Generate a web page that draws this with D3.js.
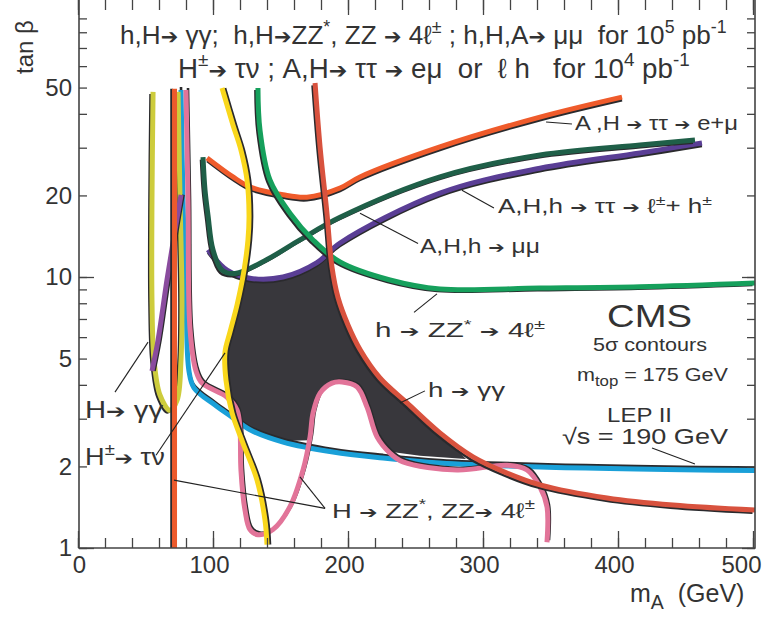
<!DOCTYPE html>
<html>
<head>
<meta charset="utf-8">
<script src="https://cdn.jsdelivr.net/npm/d3@7"></script>
<style>
body { margin: 0; background: #fff; }
svg { display: block; font-family: "Liberation Sans", Arial, Helvetica, sans-serif; }
</style>
</head>
<body>
<div id="chart"></div>
<script>
// tick values
const xTicksMajor = [0, 100, 200, 300, 400, 500];
const xTicksMinor = d3.range(0, 501, 20);
const yTickLabels = [1, 2, 5, 10, 20, 50];
const yTicksMinor = d3.range(1, 10).concat(d3.range(10, 100, 10));

// 5 sigma contours, points are [m_A (GeV), tan beta]
const hggHeavy = [[55.6,48.2],[54.8,19.2],[54.8,8.2],[56.3,4.95],[60.7,3.67],[68.1,3.22],[73.5,3.52],[76.3,4.95],[77,8.2],[75.6,19.2],[74.1,48.2]];
const hggHeavy2 = [[54.8,4.5],[59.3,5.85],[65.9,9.75],[71.9,14.9],[76.3,20.1]];
const tauNuLeft = [[71.5,49.5],[71.5,1]];
const lep = [[76.3,49],[77.8,19.2],[80,8.2],[82.2,4.5],[85.9,3.9],[101.5,3.37],[114.1,3.04],[127.4,2.73],[151.9,2.46],[188.9,2.26],[225.9,2.15],[268.1,2.06],[342.2,1.99],[501.5,1.93]];
const hzz = [[80,49],[81.5,19.2],[83,6.4],[87.4,4.5],[91.9,4.06],[110.4,3.6],[117.8,3.23],[120,2.73],[120.7,1.94],[123.7,1.38],[127.4,1.17],[133.3,1.12],[144.4,1.17],[157,1.42],[166.7,1.94],[171.9,2.57],[174.1,3.15],[179.3,3.73],[188.1,4.06],[195.6,4.1],[206.7,3.93],[214.1,3.31],[221.5,2.57],[231.1,2.24],[240.7,2.08],[280.7,1.94],[317.8,2.02],[332.6,1.94],[342.2,1.68],[347.4,1.42],[347.4,1.05]];
const tauNu = [[106.7,49.8],[114.8,36.4],[120.7,29.4],[125.2,22.8],[126.7,16.9],[125.9,13.7],[123,10.6],[117.8,7.88],[112.6,6.27],[108.9,5.29],[109.6,4.17],[114.1,3.15],[122.2,2.44],[132.6,1.78],[138.5,1.27],[140,1.03]];
const tauLepHad = [[92.6,27.7],[94.1,20.9],[96.3,16.9],[100,12.6],[106.7,10.6],[116.3,10.3],[140,11.6],[164.4,13.7],[194.1,16.6],[268.1,23.4],[342.2,28.2],[416.3,30.7],[457,32]];
const muMu = [[96.3,12.6],[110.4,10.6],[127.4,9.9],[151.9,10],[177,11.3],[194.1,13.35],[268.1,20.4],[342.2,25.2],[416.3,28.7],[462.2,31.2]];
const tauEMu = [[95.6,27.5],[114.8,23.4],[127.4,21.5],[151.9,20.1],[169.6,19.7],[194.1,21.3],[208.9,23.4],[268.1,30.2],[342.2,38.9],[403,46.1]];
const hZZ4l = [[133.3,49.8],[134.8,34.9],[142.2,22.8],[157,17.2],[174.1,13.7],[194.1,11.36],[231.1,9.75],[268.1,9.03],[342.2,9.1],[416.3,9.2],[501.5,9.5]];
const hgg = [[175.6,52],[179.3,30.2],[184.4,17.2],[188.1,10.9],[192.6,8.4],[200,6.65],[208.9,5.4],[223.7,4.24],[243.7,3.43],[268.1,2.66],[292.6,2.17],[317.8,1.89],[342.2,1.71],[391.9,1.53],[440.7,1.44],[501.5,1.38]];
// region not covered by any channel
const hole = [[123,10.4],[127.4,9.85],[151.9,9.85],[177,11.2],[186.7,11.96],[188.1,10.9],[192.6,8.4],[200,6.65],[208.9,5.4],[223.7,4.24],[243.7,3.43],[268.1,2.66],[287.4,2.13],[253.3,2.19],[232.6,2.26],[221.5,2.57],[214.1,3.31],[206.7,3.93],[195.6,4.1],[188.1,4.06],[179.3,3.73],[174.1,3.15],[171.1,2.5],[151.9,2.48],[127.4,2.73],[120,2.92],[114.1,3.15],[109.6,4.17],[108.9,5.29],[112.6,6.27],[117.8,7.88]];

const W = 763, H = 617;
const svg = d3.select("#chart").append("svg").attr("width", W).attr("height", H);
svg.append("rect").attr("width", W).attr("height", H).attr("fill", "#fff");

const x = d3.scaleLinear().domain([0, 500]).range([78, 753]);
const y = d3.scaleLog().domain([1, 100]).range([548, 6]);
const frameLeft = 79, frameRight = 755, frameBottom = 548, frameTop = 0;

const line = d3.line().x(d => x(d[0])).y(d => y(d[1])).curve(d3.curveCatmullRom.alpha(0.5));

// the uncovered region
svg.append("path")
    .datum(hole)
    .attr("d", d3.line().x(d => x(d[0])).y(d => y(d[1])).curve(d3.curveLinearClosed))
    .attr("fill", "#38373c");

function contour(pts, color, off) {
    let g = svg.append("g");
    g.append("path").datum(pts).attr("d", line)
        .attr("transform", `translate(${off[0]},${off[1]})`)
        .attr("fill", "none").attr("stroke", "#2a2a2d").attr("stroke-width", 2.6);
    g.append("path").datum(pts).attr("d", line)
        .attr("fill", "none").attr("stroke", color).attr("stroke-width", 5);
}

contour(lep, "#1aa0d8", [0, -3]);
contour(hggHeavy, "#cdcc3c", [-2.5, 2]);
contour(hggHeavy2, "#8a4c9e", [2.5, 0]);
contour(tauNuLeft, "#ec5a2c", [-3, 0]);
contour(hzz, "#e27499", [2, -2]);
contour(muMu, "#5a3e95", [0, 3]);
contour(tauLepHad, "#1f5f48", [-2, 2.5]);
contour(tauEMu, "#ef5b2b", [0, 3]);
contour(tauNu, "#f9d71c", [3, 0]);
contour(hZZ4l, "#16a05c", [-2.5, 2]);
contour(hgg, "#d8523e", [-2.5, 2.5]);

// axes and frame
function styleAxis(g) {
    g.select(".domain").remove();
    g.selectAll(".tick line").attr("stroke", "#444").attr("stroke-width", 1.3);
    g.selectAll(".tick text").attr("fill", "#333").attr("font-size", 24)
        .attr("font-family", "Liberation Sans, Arial, sans-serif");
}
svg.append("g").attr("transform", `translate(0,${frameBottom})`)
    .call(d3.axisBottom(x).tickValues(xTicksMinor).tickSize(-10).tickFormat("")).call(styleAxis);
svg.append("g").attr("transform", `translate(0,${frameBottom})`)
    .call(d3.axisBottom(x).tickValues(xTicksMajor).tickSize(-17).tickPadding(8)).call(styleAxis)
    .selectAll(".tick text").attr("dx", d => d === 500 ? -12 : (d === 0 ? 1 : -4));
svg.append("g").attr("transform", `translate(0,${frameTop})`)
    .call(d3.axisTop(x).tickValues(xTicksMinor).tickSize(-10).tickFormat("")).call(styleAxis);
svg.append("g").attr("transform", `translate(0,${frameTop})`)
    .call(d3.axisTop(x).tickValues(xTicksMajor).tickSize(-15).tickFormat("")).call(styleAxis);

svg.append("g").attr("transform", `translate(${frameLeft},0)`)
    .call(d3.axisLeft(y).tickValues(yTicksMinor).tickSize(-8).tickFormat("")).call(styleAxis);
svg.append("g").attr("transform", `translate(${frameLeft},0)`)
    .call(d3.axisLeft(y).tickValues([1, 10]).tickSize(-15).tickFormat("")).call(styleAxis);
svg.append("g").attr("transform", `translate(${frameLeft},0)`)
    .call(d3.axisLeft(y).tickValues(yTickLabels).tickSize(0).tickPadding(7).tickFormat(d3.format("d"))).call(styleAxis);
svg.append("g").attr("transform", `translate(${frameRight},0)`)
    .call(d3.axisRight(y).tickValues(yTicksMinor).tickSize(-8).tickFormat("")).call(styleAxis);
svg.append("g").attr("transform", `translate(${frameRight},0)`)
    .call(d3.axisRight(y).tickValues([1, 10]).tickSize(-13).tickFormat("")).call(styleAxis);

svg.append("path")
    .attr("d", `M${frameLeft},${frameTop}V${frameBottom}H${frameRight}V${frameTop}`)
    .attr("fill", "none").attr("stroke", "#444").attr("stroke-width", 1.6);

// text with ^{sup}, _{sub} and arrows
function rich(t, s) {
    let parts = s.split(/(\^\{[^}]*\}|_\{[^}]*\}|→)/).filter(p => p.length);
    let back = 0;
    parts.forEach(p => {
        if (p.startsWith("^{")) {
            t.append("tspan").attr("font-size", "68%").attr("dy", "-0.62em").text(p.slice(2, -1));
            back = 0.62 * 0.68;
        } else if (p.startsWith("_{")) {
            t.append("tspan").attr("font-size", "78%").attr("dy", "0.35em").text(p.slice(2, -1));
            back = -0.35 * 0.78;
        } else if (p === "→") {
            t.append("tspan").attr("font-family", "DejaVu Sans").attr("font-size", "80%")
                .attr("dy", back / 0.8 + "em").text("➔");
            back = 0;
        } else {
            t.append("tspan").attr("dy", back + "em").text(p);
            back = 0;
        }
    });
    return t;
}
function fitText(s, x0, x1, base, size, squeeze) {
    let t = svg.append("text").attr("x", x0).attr("y", base)
        .attr("font-size", size).attr("fill", "#333")
        .style("white-space", "pre");
    rich(t, s);
    if (squeeze) {
        t.attr("textLength", x1 - x0).attr("lengthAdjust", "spacingAndGlyphs");
    } else {
        let w = t.node().getComputedTextLength();
        t.attr("font-size", size * (x1 - x0) / w);
    }
    return t;
}

fitText("h,H→ γγ;  h,H→ZZ^{*}, ZZ → 4ℓ^{±} ; h,H,A→ μμ  for 10^{5} pb^{-1}", 120, 727, 44, 20);
fitText("H^{±}→ τν ; A,H→ ττ → eμ  or  ℓ h   for 10^{4} pb^{-1}", 178, 690, 78, 20);

// channel labels, placed in data units: text, m_A from, m_A to, tan beta of baseline, size
const notes = [
    ["H→ γγ", 5.2, 63, 3.02, 24],
    ["H^{±}→ τν", 5.2, 64.4, 2.02, 24],
    ["H → ZZ^{*}, ZZ→ 4ℓ^{±}", 188.1, 338.5, 1.29, 21],
    ["h → ZZ^{*} → 4ℓ^{±}", 220, 345.9, 6.0, 20],
    ["h → γγ", 259.3, 316.3, 3.6, 21],
    ["A,H,h → μμ", 253.3, 342.2, 12.3, 20],
    ["A,H,h → ττ → ℓ^{±}+ h^{±}", 311.1, 469.6, 17.2, 20],
    ["A ,H → ττ → e+μ", 368.1, 488.9, 34.9, 20],
    ["CMS", 391.9, 454.8, 6.54, 32],
    ["5σ contours", 381.5, 465.9, 5.33, 18],
    ["m_{top} = 175 GeV", 369.6, 481.5, 4.13, 18],
    ["LEP II", 391.9, 440, 2.92, 21],
    ["√s = 190 GeV", 358.5, 481.5, 2.42, 22]
];
notes.forEach(n => fitText(n[0], x(n[1]), x(n[2]), y(n[3]), n[4], true));

const leaders = [
    [[27.4, 3.76], [51.9, 5.75]],
    [[57.8, 2.2], [108.9, 5.25]],
    [[71.1, 1.78], [183, 1.40]],
    [[164.4, 1.83], [183, 1.40]],
    [[248.9, 7.4], [265.9, 8.66]],
    [[238.5, 3.43], [257, 3.8]],
    [[208.9, 17.2], [251.9, 13.3]],
    [[284.4, 20.9], [308.1, 17.97]],
    [[346.7, 37.3], [365.9, 36.7]],
    [[425.2, 2.34], [457, 2.04]]
];
svg.selectAll("line.leader").data(leaders).enter().append("line")
    .attr("class", "leader")
    .attr("x1", d => x(d[0][0])).attr("y1", d => y(d[0][1]))
    .attr("x2", d => x(d[1][0])).attr("y2", d => y(d[1][1]))
    .attr("stroke", "#222").attr("stroke-width", 1.1);

// axis titles
let xt = svg.append("text").attr("x", 630).attr("y", 602).attr("font-size", 25).attr("fill", "#333")
    .style("white-space", "pre");
rich(xt, "m_{A}  (GeV)");
svg.append("text")
    .attr("transform", "translate(33,47) rotate(-90)")
    .attr("text-anchor", "middle")
    .attr("font-size", 24).attr("fill", "#333")
    .text("tan β");
</script>
</body>
</html>
